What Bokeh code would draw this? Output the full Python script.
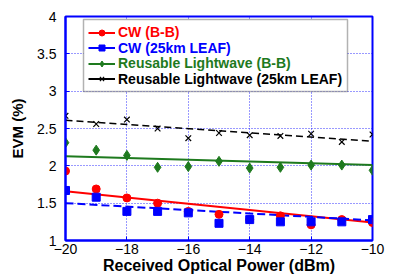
from bokeh.plotting import figure
from bokeh.models import Range1d, Legend, LegendItem, BoxAnnotation, FixedTicker
from bokeh.embed import file_html
from bokeh.resources import INLINE

# ---- data ----
power = [-20, -19, -18, -17, -16, -15, -14, -13, -12, -11, -10]
cw_bb = [1.93, 1.69, 1.57, 1.50, 1.39, 1.35, 1.28, 1.33, 1.21, 1.28, 1.24]
cw_leaf = [1.67, 1.58, 1.39, 1.39, 1.37, 1.23, 1.28, 1.25, 1.25, 1.25, 1.28]
rl_bb = [2.31, 2.21, 2.14, 1.98, 1.99, 2.06, 1.97, 1.98, 2.01, 2.01, 1.94]
rl_leaf = [2.67, 2.56, 2.62, 2.50, 2.37, 2.44, 2.41, 2.40, 2.43, 2.32, 2.42]

fit_x = [-20, -10]
cw_bb_fit = [1.66, 1.24]
cw_leaf_fit = [1.50, 1.27]
rl_bb_fit = [2.13, 2.01]
rl_leaf_fit = [2.61, 2.33]

labels = ["CW (B-B)", "CW (25km LEAF)", "Reusable Lightwave (B-B)", "Reusable Lightwave (25km LEAF)"]
x_ticks = [-20, -18, -16, -14, -12, -10]
y_ticks = [1, 1.5, 2, 2.5, 3, 3.5, 4]

RED = "#ff0000"
BLUE = "#0000ff"
GREEN = "#1e7a1e"
BLACK = "#000000"
FONT = "Liberation Sans"
NAN = float("nan")

p = figure(width=397, height=276, output_backend="svg", toolbar_location=None,
           x_range=Range1d(-20, -10), y_range=Range1d(1, 4),
           min_border_left=65, min_border_right=25, min_border_top=16, min_border_bottom=36)
p.background_fill_color = "white"
p.border_fill_color = "white"
p.outline_line_color = BLUE
p.outline_line_width = 2

for ax in (p.xaxis[0], p.yaxis[0]):
    ax.axis_line_color = BLUE
    ax.axis_line_width = 2
    ax.major_tick_in = 4
    ax.major_tick_out = 0
    ax.major_tick_line_color = BLUE
    ax.minor_tick_line_color = None
    ax.major_label_text_font = FONT
    ax.major_label_text_font_size = "14px"
    ax.major_label_text_color = "black"
    ax.axis_label_text_font = FONT
    ax.axis_label_text_font_style = "bold"
    ax.axis_label_text_color = "black"

p.xaxis[0].axis_label_text_font_size = "16px"
p.yaxis[0].axis_label_text_font_size = "15px"
p.xaxis[0].ticker = FixedTicker(ticks=x_ticks)
p.yaxis[0].ticker = FixedTicker(ticks=y_ticks)
p.yaxis[0].major_label_overrides = {1: "1", 1.5: "1.5", 2: "2", 2.5: "2.5", 3: "3", 3.5: "3.5", 4: "4"}
p.xaxis[0].axis_label = "Received Optical Power (dBm)"
p.yaxis[0].axis_label = "EVM (%)"
p.xaxis[0].axis_label_standoff = 0
p.yaxis[0].axis_label_standoff = 8
p.xaxis[0].major_label_standoff = 3
p.yaxis[0].major_label_standoff = 9

for g in (p.xgrid[0], p.ygrid[0]):
    g.grid_line_color = BLUE
    g.grid_line_dash = "1 2"
    g.grid_line_width = 1
    g.grid_line_alpha = 0.8

# fit lines
p.line(fit_x, cw_bb_fit, line_color=RED, line_width=2)
p.line(fit_x, cw_leaf_fit, line_color=BLUE, line_width=2, line_dash="8 4")
p.line(fit_x, rl_bb_fit, line_color=GREEN, line_width=2)
p.line(fit_x, rl_leaf_fit, line_color=BLACK, line_width=1.5, line_dash="7 4")

# markers
s1 = p.scatter(power, cw_bb, marker="circle", size=8, fill_color=RED, line_color=RED)
s2 = p.scatter(power, cw_leaf, marker="square", size=8, fill_color=BLUE, line_color=BLUE)
s3 = p.scatter(power, rl_bb, marker="diamond", size=10, fill_color=GREEN, line_color=GREEN)
s4 = p.scatter(power, rl_leaf, marker="x", size=8, line_color=BLACK, line_width=1.2)

# legend line samples (solid)
l1 = p.line([NAN], [NAN], line_color=RED, line_width=2)
l2 = p.line([NAN], [NAN], line_color=BLUE, line_width=2)
l3 = p.line([NAN], [NAN], line_color=GREEN, line_width=2)
l4 = p.line([NAN], [NAN], line_color=BLACK, line_width=2)

# legend box
box = BoxAnnotation(left=18, right=282, bottom=149, top=221,
                    left_units="screen", right_units="screen",
                    bottom_units="screen", top_units="screen",
                    fill_color="white", fill_alpha=1.0,
                    line_color="black", line_width=1.5, level="overlay")
p.add_layout(box)

rows = [(l1, s1, RED), (l2, s2, BLUE), (l3, s3, GREEN), (l4, s4, BLACK)]
bottoms = [200, 184.5, 169, 153.5]
for (ln, sc, col), lab, yb in zip(rows, labels, bottoms):
    lg = Legend(items=[LegendItem(label=lab, renderers=[ln, sc])],
                location=(23, yb), padding=0, margin=0, spacing=0,
                glyph_width=27, glyph_height=15, label_height=15,
                label_standoff=3, label_text_font=FONT,
                label_text_font_size="14px", label_text_font_style="bold",
                label_text_color=col, border_line_alpha=0,
                background_fill_alpha=0, click_policy="none")
    p.add_layout(lg)

open("out.html", "w").write(file_html(p, INLINE))
